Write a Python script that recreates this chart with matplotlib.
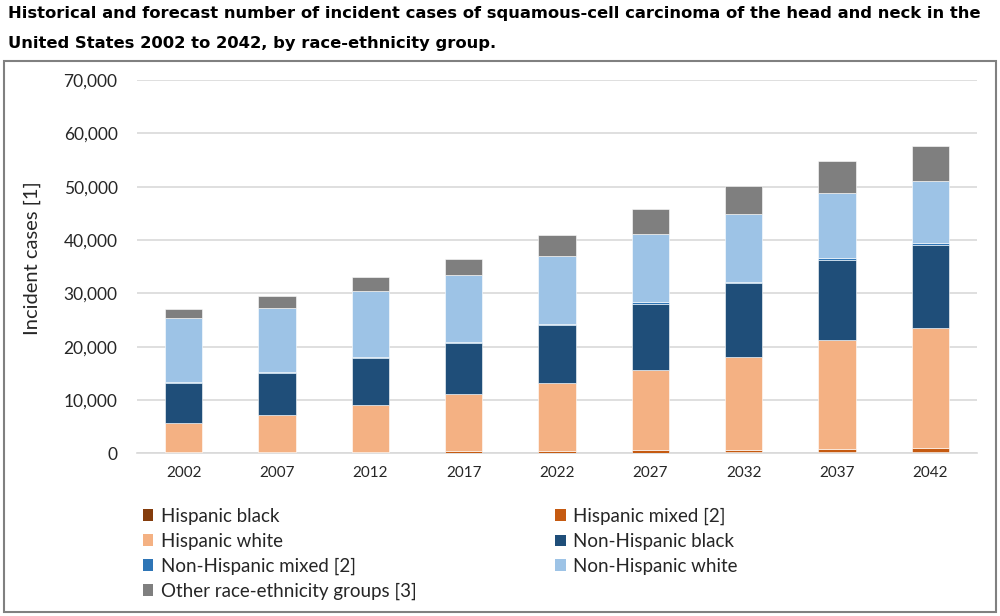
import matplotlib
matplotlib.use('Agg')
import matplotlib.pyplot as plt
from matplotlib.patches import Rectangle, Patch
from matplotlib.ticker import FuncFormatter
import numpy as np

# ===== DATA =====
years = ['2002', '2007', '2012', '2017', '2022', '2027', '2032', '2037', '2042']
hispanic_black = [60, 70, 90, 110, 130, 160, 190, 230, 270]
hispanic_mixed = [180, 210, 250, 300, 360, 430, 500, 570, 650]
hispanic_white = [5510, 6850, 8720, 10650, 12710, 15060, 17410, 20500, 22640]
non_hisp_black = [7430, 7930, 8770, 9680, 10870, 12410, 13800, 14950, 15510]
non_hisp_mixed = [120, 140, 170, 200, 230, 270, 300, 340, 380]
non_hisp_white = [12000, 12060, 12450, 12460, 12770, 12750, 12750, 12250, 11650]
other_groups = [1800, 2240, 2550, 3100, 3830, 4690, 5250, 6060, 6600]

series = [
    ('Hispanic black', hispanic_black, '#843C0C'),
    ('Hispanic mixed [2]', hispanic_mixed, '#C55A11'),
    ('Hispanic white', hispanic_white, '#F4B183'),
    ('Non-Hispanic black', non_hisp_black, '#1F4E79'),
    ('Non-Hispanic mixed [2]', non_hisp_mixed, '#2E75B6'),
    ('Non-Hispanic white', non_hisp_white, '#9DC3E6'),
    ('Other race-ethnicity groups [3]', other_groups, '#7F7F7F'),
]

plt.rcParams['font.family'] = ['Lato', 'DejaVu Sans']

fig = plt.figure(figsize=(10, 6.16), dpi=100)
ax = fig.add_axes([0.137, 0.264, 0.840, 0.606])

x = np.arange(len(years))
bottom = np.zeros(len(years))
handles = {}
for name, vals, color in series:
    ax.bar(x, vals, bottom=bottom, width=0.4, color=color,
           edgecolor='white', linewidth=0.4, zorder=3)
    bottom += np.array(vals)
    handles[name] = Patch(facecolor=color, label=name)

# ===== AXES =====
ax.set_xlim(-0.5, len(years) - 0.5)
ax.set_ylim(0, 70000)
ax.set_yticks(np.arange(0, 70001, 10000))
ax.yaxis.set_major_formatter(FuncFormatter(lambda v, p: f'{int(v):,}'))
ax.set_xticks(x)
ax.set_xticklabels(years, fontsize=11)
ax.tick_params(axis='y', labelsize=12.5, length=0, pad=14, colors='#262626')
ax.tick_params(axis='x', length=0, pad=9, colors='#262626')
ax.grid(axis='y', color='#D9D9D9', linewidth=1.2, zorder=0)
for s in ['top', 'right', 'left']:
    ax.spines[s].set_visible(False)
ax.spines['bottom'].set_color('#D9D9D9')
ax.spines['bottom'].set_linewidth(1.2)
ax.set_ylabel('Incident cases [1]', fontsize=14.5, color='#262626')
ax.yaxis.set_label_coords(-0.114, 0.523)

# ===== LEGEND (row-major order) =====
order = ['Hispanic black', 'Hispanic white', 'Non-Hispanic mixed [2]',
         'Other race-ethnicity groups [3]', 'Hispanic mixed [2]',
         'Non-Hispanic black', 'Non-Hispanic white']
fig.legend([handles[n] for n in order], order, ncol=2, frameon=False,
           loc='upper left', bbox_to_anchor=(0.143, 0.176), fontsize=13.5,
           borderaxespad=0, borderpad=0,
           handlelength=0.55, handleheight=0.55, handletextpad=0.4,
           columnspacing=7.4, labelspacing=0.42, labelcolor='#262626')

# ===== TITLE =====
fig.text(0.008, 0.99, 'Historical and forecast number of incident cases of squamous-cell carcinoma of the head and neck in the\nUnited States 2002 to 2042, by race-ethnicity group.',
         ha='left', va='top', fontsize=11.8, fontweight='bold', linespacing=2.2,
         family=['DejaVu Sans'])

# ===== BORDER =====
fig.patches.append(Rectangle((0.004, 0.007), 0.992, 0.894, transform=fig.transFigure,
                             fill=False, edgecolor='#808080', linewidth=1.5))

fig.savefig('out.png', dpi=100)
